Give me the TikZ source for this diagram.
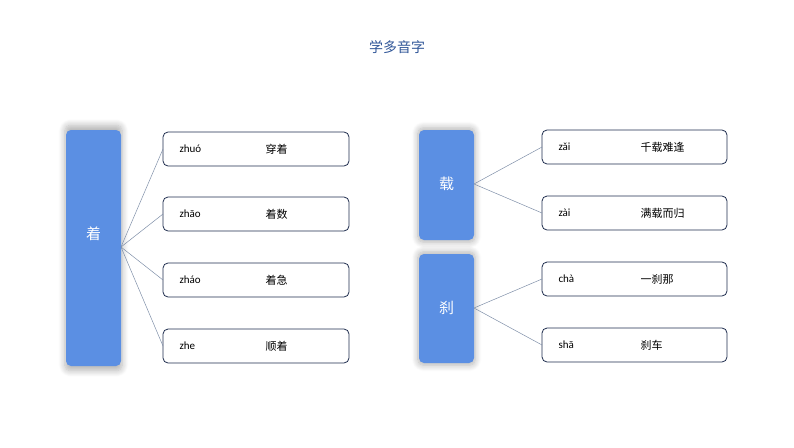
\documentclass[tikz,border=0pt]{standalone}
\usepackage{fontspec}
\setmainfont{Carlito}
\newfontfamily\cjk{Noto Sans CJK SC}
\usetikzlibrary{shadows.blur}
\definecolor{navy}{HTML}{1F2D4E}
\definecolor{bluefill}{HTML}{5B8FE3}
\definecolor{titleblue}{HTML}{2F5597}
\definecolor{linec}{HTML}{7F8FA8}
\tikzset{
  bigbox/.style={draw=none,fill=bluefill,rounded corners=5pt,blur shadow={shadow xshift=0pt,shadow yshift=0pt,shadow blur radius=6pt,shadow opacity=30,shadow blur steps=8,shadow scale=1.04}},
  item/.style={draw=navy,line width=0.8pt,fill=white,rounded corners=5pt},
  conn/.style={draw=linec,line width=0.5pt},
  py/.style={font=\fontsize{11}{13}\selectfont,text=black},
  hz/.style={font=\cjk\fontsize{11}{13}\selectfont,text=black},
  big/.style={font=\cjk\fontsize{15}{17}\selectfont,text=white}
}
\begin{document}
\begin{tikzpicture}[x=1pt,y=-1pt]
\useasboundingbox (0,0) rectangle (794,447);
\node[font=\cjk\fontsize{14}{16}\selectfont,text=titleblue] (title) at (397,47) {学多音字};
% left
\draw[bigbox] (66,130) rectangle (121,366);
\node[big] (zhe) at (93.5,234) {着};
\coordinate (zr) at (121,247);
\foreach \n/\y/\p/\h in {a/149/zhuó/穿着,b/214/zhāo/着数,c/280/zháo/着急,d/346/zhe/顺着}{
  \draw[item] (163,\y-17) rectangle (349,\y+17);
  \coordinate (L\n) at (163,\y);
  \node[py,anchor=west] (p\n) at (176,\y) {\p};
  \node[hz,anchor=west] (h\n) at (262,\y) {\h};
  \draw[conn] (zr) -- (L\n);
}
% right
\draw[bigbox] (419,130) rectangle (474,240);
\node[big] (zai) at (446.5,184) {载};
\coordinate (zar) at (474,184);
\draw[bigbox] (419,254) rectangle (474,363);
\node[big] (cha) at (446.5,308) {刹};
\coordinate (char) at (474,308);
\foreach \n/\y/\p/\h/\s in {e/147/zǎi/千载难逢/zar,f/213/zài/满载而归/zar,g/279/chà/一刹那/char,h/345/shā/刹车/char}{
  \draw[item] (542,\y-17) rectangle (727,\y+17);
  \coordinate (R\n) at (542,\y);
  \node[py,anchor=west] (p\n) at (555,\y) {\p};
  \node[hz,anchor=west] (h\n) at (637,\y) {\h};
  \draw[conn] (\s) -- (R\n);
}
\end{tikzpicture}
\end{document}
